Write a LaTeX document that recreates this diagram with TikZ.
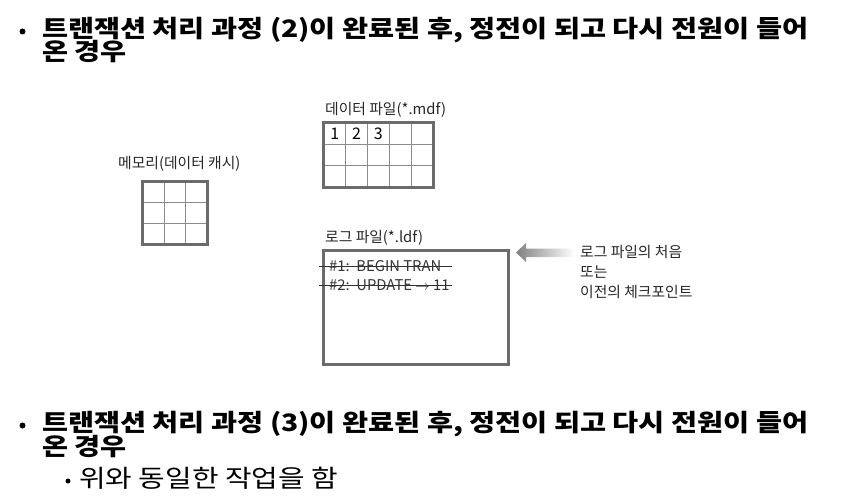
\documentclass[tikz,border=0pt]{standalone}
\usepackage{fontspec}
\newfontfamily\kr{Noto Sans CJK KR}
\newfontfamily\krw[FakeStretch=1.18]{Noto Sans CJK KR}
\usetikzlibrary{calc}
\begin{document}
\begin{tikzpicture}[x=1pt,y=-1pt,
  title/.style={anchor=base west, inner sep=0, font=\krw\bfseries\fontsize{24}{24}\selectfont},
  subtext/.style={anchor=base west, inner sep=0, font=\krw\fontsize{24.5}{24.5}\selectfont},
  lbl/.style={anchor=base west, inner sep=0, font=\kr\fontsize{14.8}{14.8}\selectfont, text=black!85},
  dot/.style={circle, fill=black, inner sep=0, minimum size=#1},
  frame/.style={draw=black!58, line width=3, inner sep=0},
  gline/.style={draw=black!45, line width=0.9},
  strike/.style={draw=black!80, line width=0.8}]
\useasboundingbox (0,0) rectangle (846,500);

% ---- first bullet
\node[dot=6] (b1) at (22.5,31.5) {};
\node[title] (t1a) at (42,37.6) {트랜잭션 처리 과정 (2)이 완료된 후, 정전이 되고 다시 전원이 들어};
\node[title] (t1b) at (42,61) {온 경우};

% ---- data file
\node[lbl] (dlab) at (325,115) {데이터 파일(*.mdf)};
\node[minimum width=109, minimum height=64, inner sep=0] (data) at (378.5,155) {};
\foreach \i in {1,2,3,4}
  \draw[gline] ($(data.north west)!\i/5!(data.north east)$) -- ($(data.south west)!\i/5!(data.south east)$);
\foreach \j in {1,2}
  \draw[gline] ($(data.north west)!\j/3!(data.south west)$) -- ($(data.north east)!\j/3!(data.south east)$);
\draw[frame] (data.north west) rectangle (data.south east);
\foreach \k/\v in {1/1,2/2,3/3}
  \node[font=\kr\fontsize{16}{16}\selectfont, inner sep=0] (n\k) at ($(data.north west)+({(\k-0.5)*109/5},10.5)$) {\v};

% ---- memory
\node[lbl] (mlab) at (118,168) {메모리(데이터 캐시)};
\node[minimum width=64, minimum height=62, inner sep=0] (mem) at (175,213) {};
\foreach \i in {1,2}{
  \draw[gline] ($(mem.north west)!\i/3!(mem.north east)$) -- ($(mem.south west)!\i/3!(mem.south east)$);
  \draw[gline] ($(mem.north west)!\i/3!(mem.south west)$) -- ($(mem.north east)!\i/3!(mem.south east)$);
}
\draw[frame] (mem.north west) rectangle (mem.south east);

% ---- log file
\node[lbl] (llab) at (325,242) {로그 파일(*.ldf)};
\node[minimum width=184, minimum height=113, inner sep=0] (log) at (416,307.5) {};
\draw[frame] (log.north west) rectangle (log.south east);
\node[lbl, text=black!80] (e1) at (329,271.5) {\#1:\ \ BEGIN TRAN};
\node[lbl, text=black!80] (e2) at (329,290.5) {\#2:\ \ UPDATE \(\rightarrow\) 11};
\coordinate (s1a) at (319,266.5); \coordinate (s1b) at (452,266.5);
\coordinate (s2a) at (319,285.5); \coordinate (s2b) at (452,285.5);
\draw[strike] (s1a) -- (s1b);
\draw[strike] (s2a) -- (s2b);

% ---- arrow
\path[left color=black!50, right color=white]
  (516,252.5) -- (526,243) -- (526,248.5) -- (574,248.5) -- (574,257) -- (526,257) -- (526,262) -- cycle;
\node[lbl] (r1) at (580,257) {로그 파일의 처음};
\node[lbl] (r2) at (580,277) {또는};
\node[lbl] (r3) at (580,297) {이전의 체크포인트};

% ---- second bullet
\node[dot=6] (b2) at (22.5,425.5) {};
\node[title] (t2a) at (42,431.6) {트랜잭션 처리 과정 (3)이 완료된 후, 정전이 되고 다시 전원이 들어};
\node[title] (t2b) at (42,455) {온 경우};
\node[dot=5] (b3) at (68,481) {};
\node[subtext] (t3) at (79,487.5) {위와 동일한 작업을 함};
\end{tikzpicture}
\end{document}
